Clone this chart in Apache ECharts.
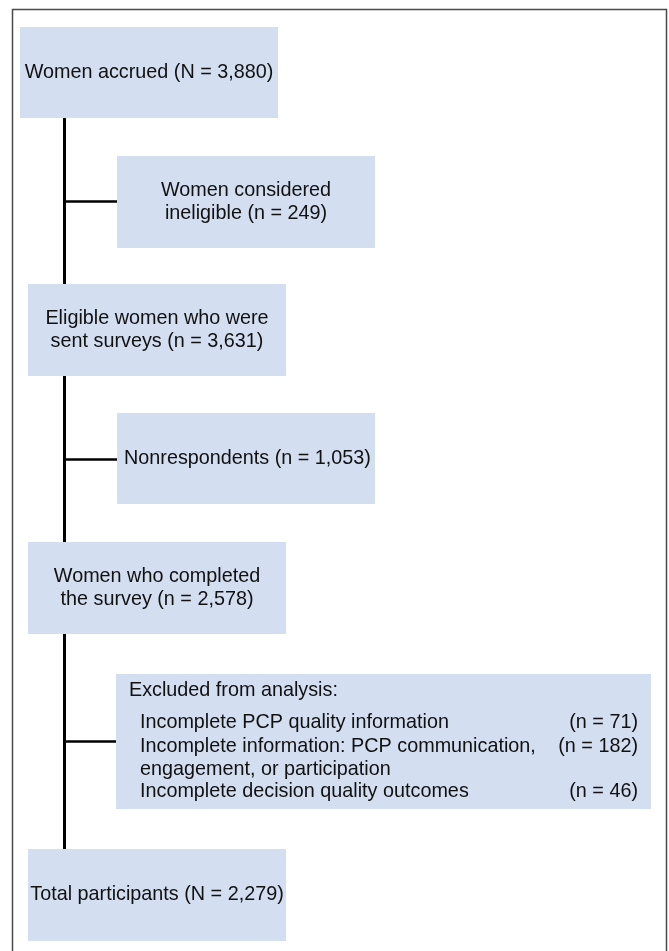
<!DOCTYPE html>
<html><head><meta charset="utf-8">
<script src="https://cdn.jsdelivr.net/npm/echarts@6/dist/echarts.min.js"></script>
<style>html,body{margin:0;padding:0;background:#fff}#c{width:669px;height:951px}</style>
</head><body><div id="c"></div>
<script>
// ---- data ----
const stageLabels = ['Women accrued', 'Women considered\nineligible', 'Eligible women who were\nsent surveys', 'Nonrespondents', 'Women who completed\nthe survey', 'Total participants'];
const stageSymbols = ['N', 'n', 'n', 'n', 'n', 'N'];
const stageCounts = [3880, 249, 3631, 1053, 2578, 2279];
const excludedTitle = 'Excluded from analysis:';
const exclusionReasons = ['Incomplete PCP quality information', 'Incomplete information: PCP communication,\nengagement, or participation', 'Incomplete decision quality outcomes'];
const exclusionCounts = [71, 182, 46];

// ---- layout (pixel space of the 669 x 951 page) ----
const stageBoxes = [
  {x: 20, y: 27, w: 258, h: 91, align: 'center'},
  {x: 117, y: 156, w: 258, h: 92, align: 'center'},
  {x: 28, y: 284, w: 258, h: 92, align: 'center'},
  {x: 117, y: 413, w: 258, h: 91, align: 'left', pad: 7},
  {x: 28, y: 542, w: 258, h: 92, align: 'center'},
  {x: 28, y: 849, w: 258, h: 92, align: 'center'}
];
const excludedBox = {x: 116, y: 674, w: 535, h: 135, titleX: 129, titleY: 691, reasonX: 140, countX: 638, rowY: [723, 747, 792]};
const spineX = 64;
const spine = [[spineX, 118], [spineX, 849]];
const branches = [[[spineX, 201], [117, 201]], [[spineX, 459], [117, 459]], [[spineX, 741], [116, 741]]];

const FONT = 'Liberation Sans, Arial, sans-serif';
const FS = 19.8;
const LH = 23;
const BOX = '#d3def1';
const TXT = '#111111';

const fmt = v => v.toLocaleString('en-US');
const stageText = i => stageLabels[i] + ' (' + stageSymbols[i] + ' = ' + fmt(stageCounts[i]) + ')';

const chart = echarts.init(document.getElementById('c'), null, {renderer: 'canvas'});

const option = {
  animation: false,
  backgroundColor: '#fff',
  grid: {left: 0, right: 0, top: 0, bottom: 0},
  xAxis: {type: 'value', min: 0, max: 669, show: false},
  yAxis: {type: 'value', min: 0, max: 951, inverse: true, show: false},
  graphic: [{
    type: 'rect', silent: true, z: 100,
    shape: {x: 12.5, y: 9.5, width: 654, height: 980},
    style: {fill: 'none', stroke: '#4a4a4a', lineWidth: 1.5}
  }],
  series: [
    {
      type: 'lines', coordinateSystem: 'cartesian2d', z: 1, silent: true,
      lineStyle: {color: '#000', width: 3, opacity: 1},
      data: [{coords: spine}]
    },
    {
      type: 'lines', coordinateSystem: 'cartesian2d', z: 1, silent: true,
      lineStyle: {color: '#000', width: 2.5, opacity: 1},
      data: branches.map(c => ({coords: c}))
    },
    {
      type: 'custom', coordinateSystem: 'cartesian2d', z: 5, silent: true,
      data: stageCounts.map((v, i) => [i, v]),
      renderItem: function (params, api) {
        const i = api.value(0);
        const b = stageBoxes[i];
        const p0 = api.coord([b.x, b.y]);
        const p1 = api.coord([b.x + b.w, b.y + b.h]);
        const cx = b.align === 'left' ? p0[0] + b.pad : (p0[0] + p1[0]) / 2;
        return {
          type: 'group',
          children: [
            {type: 'rect', shape: {x: p0[0], y: p0[1], width: p1[0] - p0[0], height: p1[1] - p0[1]}, style: {fill: BOX}},
            {type: 'text', x: cx, y: (p0[1] + p1[1]) / 2,
             style: {text: stageText(i), fill: TXT, fontFamily: FONT, fontSize: FS, lineHeight: LH,
                     align: b.align, verticalAlign: 'middle'}}
          ]
        };
      }
    },
    {
      type: 'custom', coordinateSystem: 'cartesian2d', z: 5, silent: true,
      data: [[0, exclusionCounts.reduce((a, b) => a + b, 0)]],
      renderItem: function (params, api) {
        const b = excludedBox;
        const p0 = api.coord([b.x, b.y]);
        const p1 = api.coord([b.x + b.w, b.y + b.h]);
        const children = [
          {type: 'rect', shape: {x: p0[0], y: p0[1], width: p1[0] - p0[0], height: p1[1] - p0[1]}, style: {fill: BOX}},
          {type: 'text', x: api.coord([b.titleX, 0])[0], y: api.coord([0, b.titleY])[1],
           style: {text: excludedTitle, fill: TXT, fontFamily: FONT, fontSize: FS, align: 'left', verticalAlign: 'middle'}}
        ];
        exclusionReasons.forEach((r, k) => {
          const y = api.coord([0, b.rowY[k]])[1] - LH / 2;
          children.push({type: 'text', x: api.coord([b.reasonX, 0])[0], y: y,
            style: {text: r, fill: TXT, fontFamily: FONT, fontSize: FS, lineHeight: LH, align: 'left', verticalAlign: 'top'}});
          children.push({type: 'text', x: api.coord([b.countX, 0])[0], y: y,
            style: {text: '(n = ' + fmt(exclusionCounts[k]) + ')', fill: TXT, fontFamily: FONT, fontSize: FS, lineHeight: LH, align: 'right', verticalAlign: 'top'}});
        });
        return {type: 'group', children: children};
      }
    }
  ]
};
chart.setOption(option);
</script>
</body></html>
